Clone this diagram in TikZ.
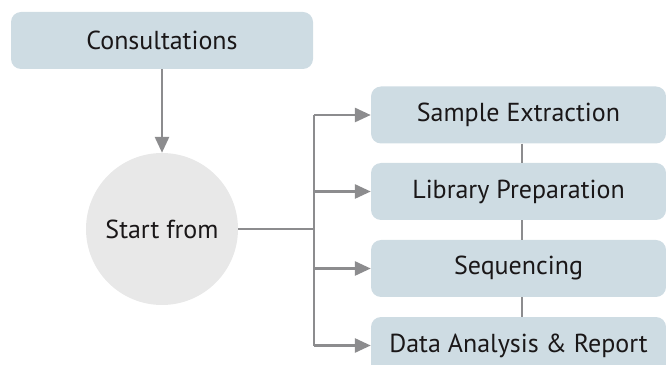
\documentclass[tikz,border=0pt]{standalone}
\usepackage{fontspec}
\setmainfont{PT Sans}
\usetikzlibrary{arrows.meta}
\definecolor{boxfill}{HTML}{CEDCE3}
\definecolor{circfill}{HTML}{E8E8E8}
\definecolor{linegray}{HTML}{8C8C8E}
\definecolor{txt}{HTML}{1A1718}
\tikzset{
  stepbox/.style={fill=boxfill, rounded corners=10pt, minimum width=295pt,
    minimum height=57pt, inner sep=0pt, text=txt,
    font=\fontsize{26}{30}\selectfont},
  topbox/.style={stepbox, minimum width=302pt},
  startcirc/.style={circle, fill=circfill, minimum size=152pt, inner sep=0pt,
    text=txt, font=\fontsize{26}{30}\selectfont},
  link/.style={draw=linegray, line width=2.8pt},
  flow/.style={link, -{Triangle[length=16pt,width=14pt]}},
}
\begin{document}
\begin{tikzpicture}[x=1pt,y=1pt]
  \useasboundingbox (0,0) rectangle (666,364);
  \begin{scope}
    \clip (0,0) rectangle (666,364);
    \node[topbox] (cons) at (162,323.5) {Consultations};
    \node[startcirc] (start) at (162,135) {Start from};
    \node[stepbox] (s1) at (518.5,249) {Sample Extraction};
    \node[stepbox] (s2) at (518.5,172.5) {Library Preparation};
    \node[stepbox] (s3) at (518.5,95.5) {Sequencing};
    \node[stepbox] (s4) at (518.5,18.5) {Data Analysis \& Report};
  \end{scope}
  \coordinate (bus) at (314,135);
  % vertical links between steps
  \draw[link, line width=2.2pt] (s1.south -| 522,0) -- (s2.north -| 522,0);
  \draw[link, line width=2.2pt] (s2.south -| 522,0) -- (s3.north -| 522,0);
  \draw[link, line width=2.2pt] (s3.south -| 522,0) -- (s4.north -| 522,0);
  % main flow
  \draw[flow] (cons.south) -- (start.north);
  \draw[link] (start.east) -- (bus);
  \draw[link] (bus |- s1.west) -- (bus |- s4.west);
  \draw[flow] (bus |- s1.west) -- (s1.west);
  \draw[flow] (bus |- s2.west) -- (s2.west);
  \draw[flow] (bus |- s3.west) -- (s3.west);
  \draw[flow] (bus |- s4.west) -- (s4.west);
\end{tikzpicture}
\end{document}
